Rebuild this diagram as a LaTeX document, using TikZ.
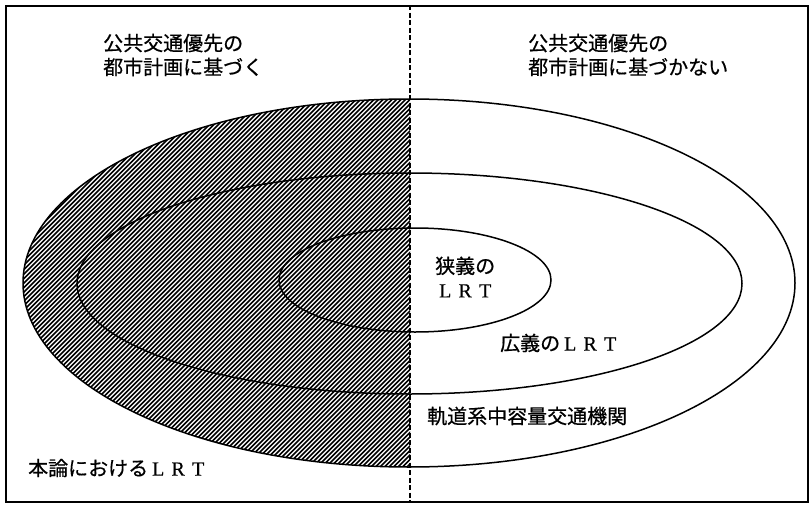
\documentclass[tikz,border=0pt]{standalone}
\usepackage{fontspec}
\usetikzlibrary{shapes.geometric}
\newfontfamily\jpfont[FakeBold=0.6]{Noto Sans CJK JP}
\newfontfamily\latfont[FakeBold=0.4]{Liberation Serif}
\newcommand\fwL[1]{\makebox[1em]{\latfont #1}}
\newcommand\myLRT{\fwL{L}\fwL{R}\fwL{T}}
\begin{document}
\begin{tikzpicture}[x=1pt,y=-1pt,
  lbl/.style={inner sep=0pt, font=\jpfont\fontsize{20}{24}\selectfont},
  ring/.style={draw=black, line width=1.5pt},
  hatchline/.style={line width=1.6pt},
  frameline/.style={line width=1.8pt},
  divider/.style={line width=1.1pt, dash pattern=on 5pt off 2.5pt}]
\useasboundingbox (0,0) rectangle (811,506);
% hatched left half of the outer ellipse
\begin{scope}
  \clip (20,0) rectangle (410,506);
  \clip (409,283) ellipse [x radius=386pt, y radius=184pt];
  \foreach \c in {-180,-175.5,...,600} {
    \draw[hatchline] (\c-190,470) -- (\c+190,90);
  }
\end{scope}
% frame
\node[frameline, draw, minimum width=802pt, minimum height=496pt, anchor=north west, inner sep=0pt] (frame) at (5,5) {};
% divider
\coordinate (dtop) at (410,5);
\coordinate (dbot) at (410,501);
\draw[divider] (dtop) -- (dbot);
% ellipses
\node[ring, ellipse, minimum width=772pt, minimum height=368pt, inner sep=0pt] (outer) at (409,283) {};
\node[ring, ellipse, minimum width=665pt, minimum height=221pt, inner sep=0pt] (middle) at (409.5,283.5) {};
\node[ring, ellipse, minimum width=272pt, minimum height=104pt, inner sep=0pt] (inner) at (415,280) {};
% labels
\node[lbl, anchor=west, align=left] (tl) at (103,55) {公共交通優先の\\都市計画に基づく};
\node[lbl, anchor=west, align=left] (tr) at (528,55) {公共交通優先の\\都市計画に基づかない};
\node[lbl, anchor=west, align=left] (narrow) at (435,277) {狭義の\\\myLRT};
\node[lbl, anchor=west] (broad) at (500,343) {広義の\myLRT};
\node[lbl, anchor=west] (rail) at (427,416) {軌道系中容量交通機関};
\node[lbl, anchor=west] (ours) at (28,468) {本論における\myLRT};
\end{tikzpicture}
\end{document}
